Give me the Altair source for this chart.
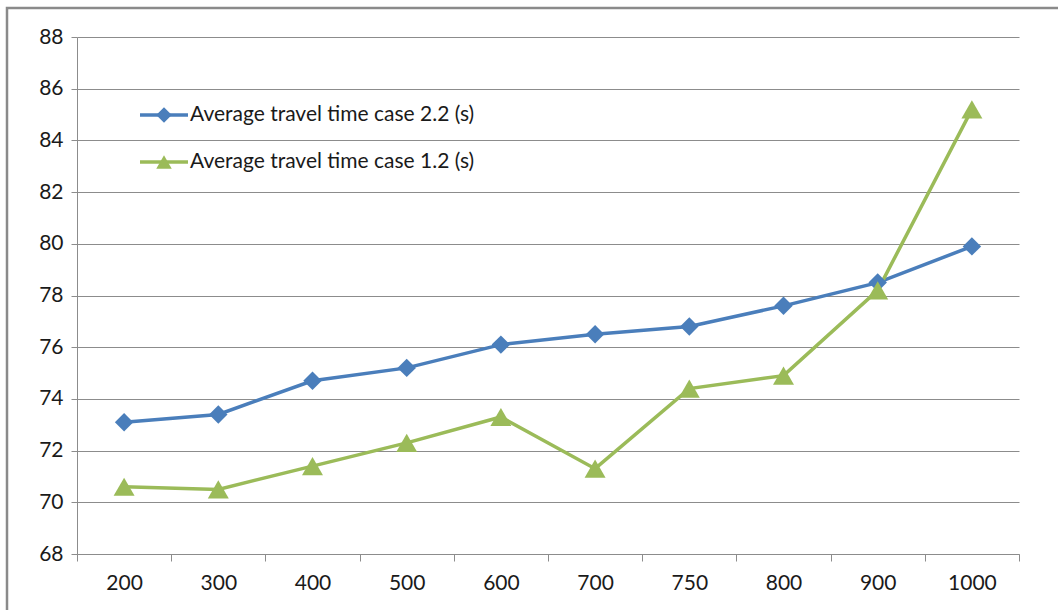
import altair as alt
import pandas as pd

# Vehicle counts (categorical x) and average travel time per case
vehicles = ["200", "300", "400", "500", "600", "700", "750", "800", "900", "1000"]
case_22 = [73.1, 73.4, 74.7, 75.2, 76.1, 76.5, 76.8, 77.6, 78.5, 79.9]
case_12 = [70.6, 70.5, 71.4, 72.3, 73.3, 71.3, 74.4, 74.9, 78.2, 85.2]

series_names = ["Average travel time case 2.2 (s)", "Average travel time case 1.2 (s)"]
series_colors = ["#4A7EBB", "#9BBB59"]
series_shapes = ["diamond", "triangle-up"]
marker_sizes = [340, 440]
y_ticks = [68, 70, 72, 74, 76, 78, 80, 82, 84, 86, 88]

FONT = "Lato"
W, H = 942, 517

rows = []
for name, vals in zip(series_names, [case_22, case_12]):
    for v, t in zip(vehicles, vals):
        rows.append({"vehicles": v, "time": t, "series": name})
df = pd.DataFrame(rows)

x_enc = alt.X(
    "vehicles:O",
    sort=vehicles,
    bandPosition=0.5,
    scale=alt.Scale(type="band", paddingInner=0, paddingOuter=0),
    axis=alt.Axis(
        title=None, labelAngle=0, tickBand="extent", tickSize=7,
        tickColor="#8C8C8C", domainColor="#8C8C8C", labelPadding=11,
        labelFontSize=21, labelFont=FONT, labelColor="#1A1A1A", grid=False,
    ),
)
y_enc = alt.Y(
    "time:Q",
    scale=alt.Scale(domain=[68, 88], nice=False, zero=False),
    axis=alt.Axis(
        title=None, values=y_ticks, tickSize=6, tickColor="#8C8C8C",
        domainColor="#8C8C8C", gridColor="#8C8C8C", gridWidth=1,
        labelPadding=8, labelFontSize=21, labelFont=FONT, labelColor="#1A1A1A",
    ),
)
color_enc = alt.Color(
    "series:N", scale=alt.Scale(domain=series_names, range=series_colors), legend=None
)
shape_enc = alt.Shape(
    "series:N", scale=alt.Scale(domain=series_names, range=series_shapes), legend=None
)
size_enc = alt.Size(
    "series:N", scale=alt.Scale(domain=series_names, range=marker_sizes), legend=None
)

base = alt.Chart(df)
lines = base.mark_line(strokeWidth=3.5).encode(x=x_enc, y=y_enc, color=color_enc)
points = base.mark_point(filled=True, opacity=1).encode(
    x=x_enc, y=y_enc, color=color_enc, shape=shape_enc, size=size_enc
)

# Outer chart frame
frame = alt.Chart(alt.Data(values=[{}])).mark_rect(
    fill=None, stroke="#8A8A8A", strokeWidth=2.5, clip=False
).encode(
    x=alt.value(-70), x2=alt.value(1200), y=alt.value(-29), y2=alt.value(800)
)

# Legend drawn inside the plot area
legend_layers = []
for i, (name, col, shp) in enumerate(zip(series_names, series_colors, series_shapes)):
    ly = 78 + i * 47
    ldata = alt.Data(values=[{"label": name}])
    legend_layers.append(
        alt.Chart(ldata).mark_rule(color=col, strokeWidth=3.5).encode(
            x=alt.value(63), x2=alt.value(111), y=alt.value(ly)
        )
    )
    legend_layers.append(
        alt.Chart(ldata).mark_point(filled=True, opacity=1, color=col, shape=shp, size=240).encode(
            x=alt.value(87), y=alt.value(ly)
        )
    )
    legend_layers.append(
        alt.Chart(ldata).mark_text(
            align="left", baseline="middle", font=FONT, fontSize=21, color="#1A1A1A"
        ).encode(x=alt.value(113), y=alt.value(ly), text="label:N")
    )

chart = alt.layer(frame, lines, points, *legend_layers).properties(
    width=W,
    height=H,
    autosize="none",
    padding={"left": 77, "top": 37, "right": 39, "bottom": 56},
    background="white",
).configure_view(stroke=None)

chart.save("out.html", embed_options={"renderer": "svg", "actions": False})
